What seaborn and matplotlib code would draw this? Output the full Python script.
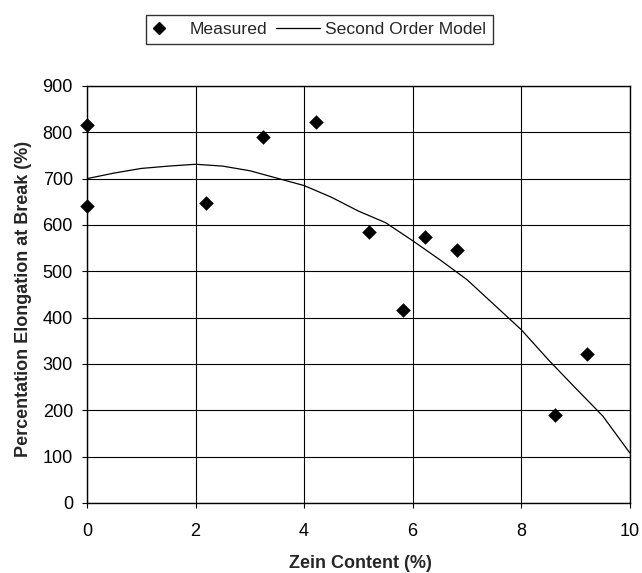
import matplotlib
matplotlib.use("Agg")
import matplotlib.pyplot as plt
import seaborn as sns
import pandas as pd
from matplotlib.lines import Line2D
from matplotlib.legend_handler import HandlerBase

# Measured data
zein_measured = [0.0, 0.0, 2.2, 3.25, 4.22, 5.2, 5.83, 6.22, 6.81, 8.62, 9.21]
elong_measured = [641, 816, 647, 790, 822, 585, 416, 574, 545, 190, 322]

# Second order model curve
zein_model = [0, 0.5, 1, 1.5, 2, 2.5, 3, 3.5, 4, 4.5, 5, 5.5, 6, 6.5, 7, 7.5, 8, 8.5, 9, 9.5, 10]
elong_model = [700, 712, 722, 727, 731, 727, 717, 701, 685, 660, 630, 605, 566, 525, 482, 428, 374, 309, 248, 188, 108]

x_ticks = [0, 2, 4, 6, 8, 10]
y_ticks = [0, 100, 200, 300, 400, 500, 600, 700, 800, 900]

sns.set_theme(style="white")
plt.rcParams['font.family'] = ['Liberation Sans', 'DejaVu Sans']

FS = 13
LFS = 12.6

df_m = pd.DataFrame({"x": zein_measured, "y": elong_measured})
df_c = pd.DataFrame({"x": zein_model, "y": elong_model})

fig = plt.figure(figsize=(6.42, 5.73), dpi=100)
ax = fig.add_axes([0.1355, 0.1222, 0.981 - 0.1355, 0.850 - 0.1222])

sns.lineplot(data=df_c, x="x", y="y", ax=ax, color="black", linewidth=0.9, zorder=3)
sns.scatterplot(data=df_m, x="x", y="y", ax=ax, marker="D", s=55, color="black",
                edgecolor="black", linewidth=0, zorder=4, clip_on=False)

ax.set_xlim(0, 10)
ax.set_ylim(0, 900)
ax.set_xticks(x_ticks)
ax.set_yticks(y_ticks)
ax.set_xticklabels([str(t) for t in x_ticks], fontsize=FS)
ax.set_yticklabels([str(t) for t in y_ticks], fontsize=FS)
ax.grid(True, color="black", linewidth=0.8)
ax.set_axisbelow(True)
for s in ax.spines.values():
    s.set_color("black")
    s.set_linewidth(1.0)
ax.tick_params(axis="both", direction="out", length=3.6, width=0.8, color="black",
               bottom=True, left=True, labelcolor="black")
ax.tick_params(axis="x", pad=10.5)
ax.tick_params(axis="y", pad=6.5)

ax.set_xlabel("Zein Content (%)", fontsize=FS, fontweight="bold")
ax.set_ylabel("Percentation Elongation at Break (%)", fontsize=FS, fontweight="bold")
ax.xaxis.set_label_coords(0.503, -0.125)
ax.yaxis.set_label_coords(-0.101, 0.49)


class LongLineHandler(HandlerBase):
    def create_artists(self, legend, orig_handle, xdescent, ydescent, width, height,
                       fontsize, trans):
        y = height / 2 - ydescent
        x0 = -xdescent - 8.9
        x1 = -xdescent + width + 14.0
        ln = Line2D([x0, x1], [y, y], color="black", linewidth=0.9)
        ln.set_transform(trans)
        return [ln]


marker_handle = Line2D([], [], marker="D", color="black", linestyle="None", markersize=6)
line_handle = Line2D([], [], color="black", linewidth=0.9)
leg = fig.legend([marker_handle, line_handle], ["Measured", "Second Order Model"],
                 loc="center", bbox_to_anchor=(0.498, 0.949), ncol=2, frameon=True,
                 fancybox=False, fontsize=LFS, handlelength=0.7, columnspacing=1.22,
                 handletextpad=1.4, borderpad=0.4,
                 handler_map={line_handle: LongLineHandler()})
leg.get_frame().set_edgecolor("black")
leg.get_frame().set_linewidth(1.0)

fig.savefig("out.png", dpi=100, facecolor="white")
